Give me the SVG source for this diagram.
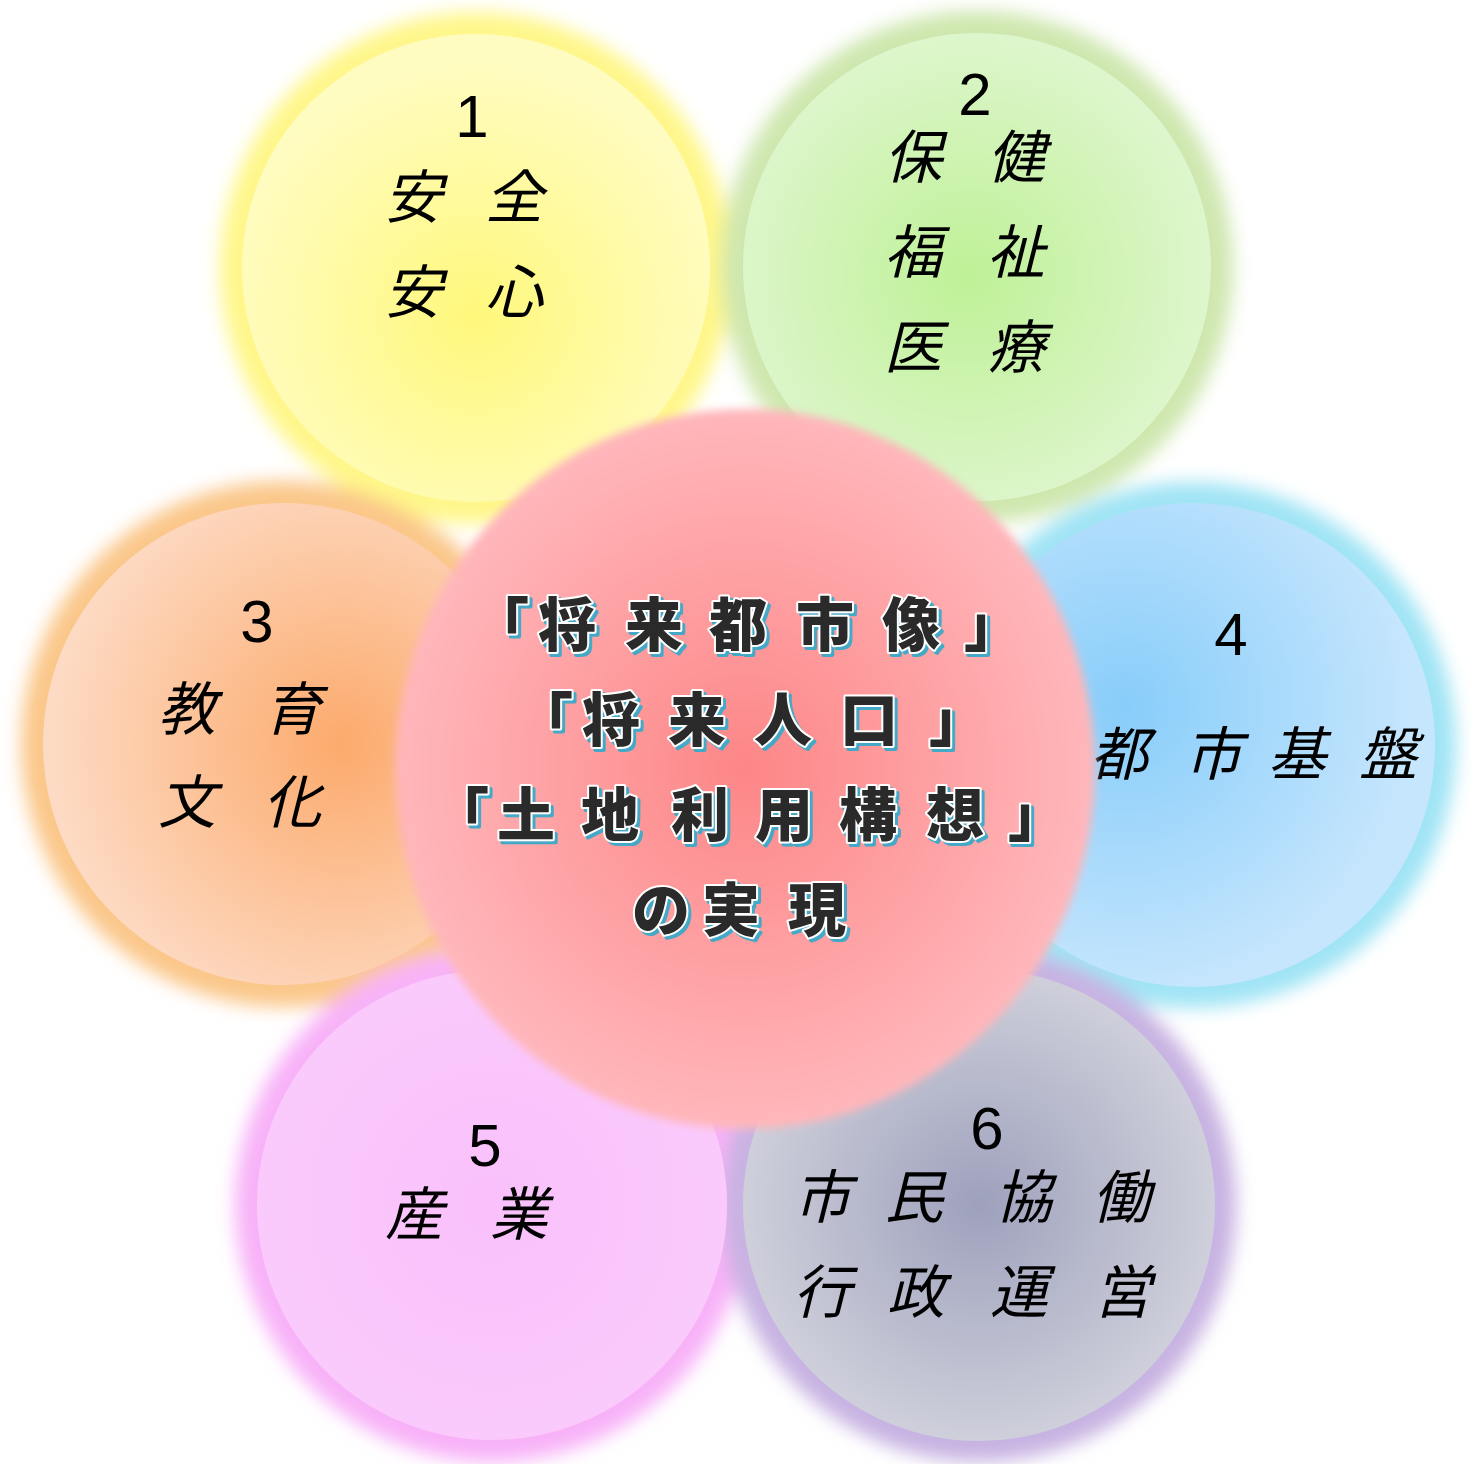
<svg xmlns="http://www.w3.org/2000/svg" width="1478" height="1464" viewBox="0 0 1478 1464">
<defs>
<filter id="halo" x="-20%" y="-20%" width="140%" height="140%"><feGaussianBlur stdDeviation="9"/></filter>
<filter id="soft" x="-10%" y="-10%" width="120%" height="120%"><feGaussianBlur stdDeviation="4"/></filter>
<radialGradient id="g1" cx="0.5" cy="0.6" r="0.55"><stop offset="0" stop-color="#fff87c"/><stop offset="1" stop-color="#fffcc2"/></radialGradient>
<radialGradient id="g2" cx="0.48" cy="0.52" r="0.55"><stop offset="0" stop-color="#bff197"/><stop offset="1" stop-color="#dff6cf"/></radialGradient>
<radialGradient id="g3" cx="0.62" cy="0.5" r="0.6"><stop offset="0" stop-color="#fcaa6c"/><stop offset="1" stop-color="#fddac3"/></radialGradient>
<radialGradient id="g4" cx="0.36" cy="0.42" r="0.6"><stop offset="0" stop-color="#88cdfa"/><stop offset="1" stop-color="#c6e6fd"/></radialGradient>
<radialGradient id="g5" cx="0.5" cy="0.5" r="0.55"><stop offset="0" stop-color="#f9c0fb"/><stop offset="1" stop-color="#fbcbfc"/></radialGradient>
<radialGradient id="g6" cx="0.5" cy="0.5" r="0.55"><stop offset="0" stop-color="#9ea1bc"/><stop offset="1" stop-color="#d3d4de"/></radialGradient>
<radialGradient id="gc" cx="0.5" cy="0.5" r="0.5"><stop offset="0" stop-color="#fd8687"/><stop offset="1" stop-color="#ffb7bb"/></radialGradient>
<style>
.num{font-family:"Liberation Sans","DejaVu Sans",sans-serif;font-size:60px;fill:#000;text-anchor:middle}
.jp{font-family:"Noto Sans CJK JP",sans-serif;font-size:58px;font-weight:400;font-style:italic;fill:#000;text-anchor:middle}
.ct{font-family:"Noto Sans CJK JP",sans-serif;font-size:58px;font-weight:900;text-anchor:middle}
.sh{fill:#45a8c6;stroke:#45a8c6;stroke-width:4;stroke-linejoin:round}
.fg{fill:#2a2a2a;stroke:#ffffff;stroke-width:4;stroke-linejoin:round;paint-order:stroke fill}
</style>
<g id="ctext">
<text class="ct" x="500 567 654 738 825 911 993" y="646">「将来都市像」</text>
<text class="ct" x="544 611 697 783 869 958" y="741">「将来人口」</text>
<text class="ct" x="460 526 610 700 784 868 955 1037" y="836">「土地利用構想」</text>
<text class="ct" x="661 731 817" y="931">の実現</text>
</g>
</defs>
<rect width="1478" height="1464" fill="#ffffff"/>
<g id="halos" filter="url(#halo)">
<circle cx="476" cy="268" r="256" fill="#fff78a"/>
<circle cx="977" cy="267" r="256" fill="#cfe7af"/>
<circle cx="284" cy="744" r="263" fill="#fbc78a"/>
<circle cx="1193" cy="745" r="263" fill="#a0e4f5"/>
<circle cx="492" cy="1205" r="257" fill="#f8b2f8"/>
<circle cx="979" cy="1205" r="257" fill="#c8b3e2"/>
</g>
<g id="node1">
<circle cx="476" cy="268" r="234" fill="url(#g1)"/>
<text class="num" x="472" y="137">1</text>
<text class="jp" x="413 514" y="218">安全</text>
<text class="jp" x="413 514" y="313">安心</text>
</g>
<g id="node2">
<circle cx="977" cy="267" r="234" fill="url(#g2)"/>
<text class="num" x="975" y="115">2</text>
<text class="jp" x="913 1016" y="178">保健</text>
<text class="jp" x="913 1016" y="273">福祉</text>
<text class="jp" x="913 1016" y="368">医療</text>
</g>
<g id="node3">
<circle cx="284" cy="744" r="241" fill="url(#g3)"/>
<text class="num" x="257" y="642">3</text>
<text class="jp" x="187 292" y="730">教育</text>
<text class="jp" x="187 292" y="823">文化</text>
</g>
<g id="node4">
<circle cx="1193" cy="745" r="242" fill="url(#g4)"/>
<text class="num" x="1231" y="655">4</text>
<text class="jp" x="1119 1213 1297 1388" y="775">都市基盤</text>
</g>
<g id="node5">
<circle cx="492" cy="1205" r="235" fill="url(#g5)"/>
<text class="num" x="485" y="1166">5</text>
<text class="jp" x="414 519" y="1235">産業</text>
</g>
<g id="node6">
<circle cx="979" cy="1205" r="236" fill="url(#g6)"/>
<text class="num" x="987" y="1149">6</text>
<text class="jp" x="822 914 1023 1121" y="1218">市民協働</text>
<text class="jp" x="822 916 1019 1122" y="1313">行政運営</text>
</g>
<g id="center">
<ellipse cx="745" cy="769" rx="350" ry="360" fill="url(#gc)" filter="url(#soft)"/>
<use href="#ctext" class="sh" x="3" y="3"/>
<use href="#ctext" class="fg"/>
</g>
</svg>
